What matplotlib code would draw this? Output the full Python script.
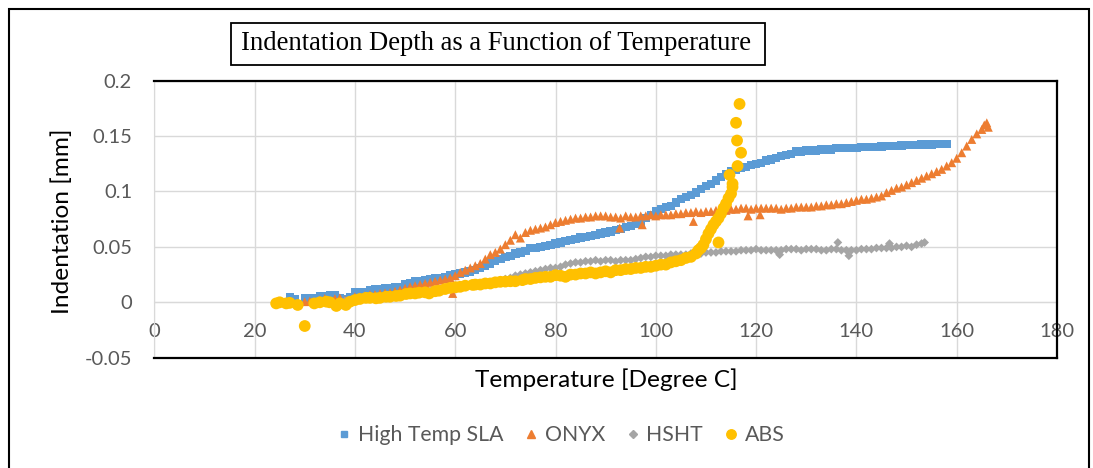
#!/usr/bin/env python3
"""Indentation depth vs temperature scatter chart (Excel style)."""

import matplotlib

matplotlib.use("Agg")
import matplotlib.pyplot as plt
from matplotlib.lines import Line2D
from matplotlib.patches import Rectangle

plt.rcParams["font.family"] = ["Lato", "DejaVu Sans"]

# ---- data ------------------------------------------------------------------
sla_temp = [27, 28, 30, 31, 32, 33, 34, 35, 36, 37, 38, 39, 40, 41, 42, 43, 44, 45, 46, 47,
            48, 49, 50, 51, 52, 53, 54, 55, 56, 57, 58, 59, 60, 61, 62, 63, 64, 65, 66, 67,
            68, 69, 70, 71, 72, 73, 74, 75, 76, 77, 78, 79, 80, 81, 82, 83, 84, 85, 86, 87,
            88, 89, 90, 91, 92, 93, 94, 95, 96, 97, 98, 99, 100, 101, 102, 103, 104, 105,
            106, 107, 108, 109, 110, 111, 112, 113, 114, 115, 116, 117, 118, 119, 120, 121,
            122, 123, 124, 125, 126, 127, 128, 129, 130, 131, 132, 133, 134, 135, 136, 137,
            138, 139, 140, 141, 142, 143, 144, 145, 146, 147, 148, 149, 150, 151, 152, 153,
            154, 155, 156, 157, 158]
sla_depth = [0.0045, 0.003, 0.0036, 0.004, 0.0035, 0.0055, 0.0057, 0.006, 0.0066, 0.004,
             0.003, 0.005, 0.0087, 0.009, 0.0095, 0.011, 0.0117, 0.012, 0.013, 0.0128,
             0.0136, 0.014, 0.016, 0.017, 0.0187, 0.019, 0.020, 0.021, 0.0217, 0.022,
             0.023, 0.0245, 0.0256, 0.026, 0.027, 0.0277, 0.029, 0.031, 0.033, 0.035,
             0.037, 0.039, 0.041, 0.042, 0.044, 0.045, 0.046, 0.049, 0.049, 0.050,
             0.051, 0.052, 0.053, 0.054, 0.0555, 0.056, 0.057, 0.0585, 0.059, 0.060,
             0.061, 0.062, 0.063, 0.064, 0.065, 0.066, 0.068, 0.069, 0.071, 0.073,
             0.076, 0.079, 0.082, 0.084, 0.086, 0.087, 0.090, 0.093, 0.095, 0.097,
             0.099, 0.102, 0.105, 0.107, 0.110, 0.113, 0.116, 0.118, 0.120, 0.121,
             0.122, 0.124, 0.125, 0.126, 0.128, 0.129, 0.130, 0.132, 0.133, 0.134,
             0.136, 0.136, 0.137, 0.137, 0.137, 0.138, 0.138, 0.138, 0.139, 0.139,
             0.1395, 0.139, 0.139, 0.140, 0.140, 0.140, 0.140, 0.1405, 0.141, 0.141,
             0.141, 0.1415, 0.142, 0.142, 0.142, 0.1425, 0.1425, 0.1425, 0.143, 0.143,
             0.143]

onyx_temp = [30, 31, 33, 34, 36, 37, 38, 40, 41, 42, 43, 44, 45, 46, 47, 48, 49, 50, 51, 52,
             53, 54, 55, 56, 57, 58, 59, 59.5, 60, 61, 62, 63, 64, 65, 66, 67, 68, 69, 70,
             71, 72, 73, 74, 75, 76, 77, 78, 79, 80, 81, 82, 83, 84, 85, 86, 87, 88, 89,
             90, 91, 92, 92.8, 93, 94, 95, 96, 97, 97.3, 98, 99, 100, 101, 102, 103, 104,
             105, 106, 107, 107.5, 108, 109, 110, 111, 112, 113, 114, 115, 116, 117, 118,
             118.4, 119, 120, 120.8, 121, 122, 123, 124, 125, 126, 127, 128, 129, 130, 131,
             132, 133, 134, 135, 136, 137, 138, 139, 140, 141, 142, 143, 144, 145, 146,
             147, 148, 149, 150, 151, 152, 153, 154, 155, 156, 157, 158, 159, 160, 161,
             162, 163, 164, 165, 165.5, 166, 166.3]
onyx_depth = [0.0006, 0.001, 0.002, 0.0035, 0.0033, 0.004, 0.002, 0.005, 0.005, 0.006,
              0.007, 0.007, 0.008, 0.0085, 0.0087, 0.010, 0.011, 0.0127, 0.014, 0.015,
              0.016, 0.017, 0.018, 0.019, 0.020, 0.021, 0.022, 0.008, 0.024, 0.027,
              0.029, 0.031, 0.033, 0.035, 0.039, 0.043, 0.045, 0.048, 0.052, 0.056,
              0.061, 0.058, 0.063, 0.065, 0.066, 0.067, 0.068, 0.070, 0.072, 0.073,
              0.074, 0.075, 0.076, 0.076, 0.077, 0.077, 0.078, 0.078, 0.078, 0.077,
              0.077, 0.067, 0.076, 0.078, 0.077, 0.077, 0.078, 0.070, 0.078, 0.079,
              0.078, 0.079, 0.079, 0.079, 0.080, 0.080, 0.081, 0.081, 0.073, 0.082,
              0.081, 0.082, 0.082, 0.083, 0.083, 0.083, 0.084, 0.084, 0.085, 0.085,
              0.078, 0.084, 0.085, 0.079, 0.085, 0.085, 0.085, 0.085, 0.084, 0.085,
              0.085, 0.086, 0.086, 0.086, 0.086, 0.087, 0.087, 0.088, 0.088, 0.089,
              0.089, 0.090, 0.091, 0.092, 0.093, 0.093, 0.094, 0.095, 0.096, 0.099,
              0.101, 0.103, 0.104, 0.106, 0.108, 0.110, 0.112, 0.114, 0.116, 0.118,
              0.120, 0.123, 0.126, 0.130, 0.135, 0.141, 0.147, 0.152, 0.156, 0.160,
              0.162, 0.158]

hsht_temp = [35, 36, 37, 38, 39, 40, 41, 42, 43, 44, 45, 46, 47, 48, 49, 50, 51, 52, 53, 54,
             55, 56, 57, 58, 59, 60, 61, 62, 63, 64, 65, 66, 67, 68, 69, 70, 71, 72, 73, 74,
             75, 76, 77, 78, 79, 80, 81, 82, 83, 84, 85, 86, 87, 88, 89, 90, 91, 92, 93, 94,
             95, 96, 97, 98, 99, 100, 101, 102, 103, 104, 105, 106, 107, 108, 109, 110, 111,
             112, 113, 114, 115, 116, 117, 118, 119, 120, 121, 122, 123, 124, 124.7, 125,
             126, 127, 128, 129, 130, 131, 132, 133, 134, 135, 136, 136.3, 137, 138, 138.5,
             139, 140, 141, 142, 143, 144, 145, 146, 146.6, 147, 148, 149, 150, 151, 152,
             153, 153.6]
hsht_depth = [-0.001, -0.0015, 0.000, 0.001, 0.0015, 0.002, 0.0025, 0.003, 0.0035, 0.004,
              0.0045, 0.005, 0.005, 0.006, 0.0065, 0.007, 0.0075, 0.008, 0.009, 0.0095,
              0.010, 0.0105, 0.011, 0.012, 0.0125, 0.013, 0.0135, 0.014, 0.015, 0.0155,
              0.016, 0.017, 0.018, 0.019, 0.020, 0.021, 0.022, 0.024, 0.025, 0.026,
              0.027, 0.028, 0.029, 0.030, 0.031, 0.031, 0.032, 0.034, 0.035, 0.036,
              0.036, 0.037, 0.037, 0.038, 0.037, 0.038, 0.038, 0.037, 0.038, 0.038,
              0.038, 0.039, 0.040, 0.041, 0.041, 0.042, 0.042, 0.042, 0.043, 0.043,
              0.043, 0.043, 0.044, 0.044, 0.044, 0.045, 0.045, 0.045, 0.046, 0.046,
              0.046, 0.046, 0.047, 0.047, 0.047, 0.048, 0.047, 0.047, 0.047, 0.047,
              0.043, 0.047, 0.048, 0.048, 0.048, 0.047, 0.048, 0.048, 0.048, 0.047,
              0.047, 0.048, 0.048, 0.054, 0.047, 0.047, 0.042, 0.047, 0.047, 0.048,
              0.048, 0.048, 0.049, 0.049, 0.049, 0.053, 0.049, 0.050, 0.050, 0.051,
              0.050, 0.052, 0.053, 0.054]

abs_temp = [24.3, 25, 26.3, 27, 28.6, 30, 31.9, 33, 34.3, 35, 36.3, 37, 38.2, 39, 40, 41,
            42.2, 43, 44.2, 45, 46.2, 47, 48.2, 49, 50.2, 51, 52, 52.8, 54, 54.8, 56, 56.8,
            58, 59, 60.1, 61, 62, 63.5, 64, 65, 66, 67, 68, 69, 70, 71, 72, 73.4, 74, 75,
            76, 77, 78, 79, 80, 81, 82, 83, 84, 85, 86, 87, 88, 89, 90, 91, 92, 93, 94, 95,
            96, 97, 98, 99, 100, 101, 102, 103, 104, 105, 106, 107, 108, 108.5, 109, 109.5,
            110, 110.5, 111, 111.5, 112, 112.5, 112.5, 113, 113.5, 114, 114.5, 115, 115.3,
            115.3, 114.7, 116.3, 117, 116.2, 116, 116.7]
abs_depth = [-0.001, 0.000, -0.001, -0.0005, -0.0024, -0.0214, -0.001, 0.000, 0.0006, 0.000,
             -0.0033, -0.001, -0.0024, 0.0005, 0.002, 0.003, 0.004, 0.004, 0.0036, 0.004,
             0.005, 0.005, 0.0057, 0.006, 0.0075, 0.008, 0.008, 0.0087, 0.009, 0.008,
             0.010, 0.0105, 0.012, 0.013, 0.0136, 0.014, 0.015, 0.0157, 0.016, 0.016,
             0.017, 0.017, 0.018, 0.0185, 0.0187, 0.019, 0.019, 0.020, 0.021, 0.021,
             0.022, 0.0225, 0.023, 0.023, 0.0245, 0.024, 0.023, 0.025, 0.025, 0.026,
             0.026, 0.027, 0.026, 0.027, 0.028, 0.027, 0.029, 0.029, 0.030, 0.030,
             0.031, 0.031, 0.032, 0.032, 0.033, 0.034, 0.034, 0.036, 0.037, 0.038,
             0.040, 0.041, 0.044, 0.047, 0.049, 0.052, 0.057, 0.062, 0.066, 0.070,
             0.073, 0.076, 0.054, 0.080, 0.085, 0.089, 0.094, 0.098, 0.104, 0.107,
             0.115, 0.123, 0.135, 0.146, 0.162, 0.179]

series_names = ["High Temp SLA", "ONYX", "HSHT", "ABS"]
x_ticks = [0, 20, 40, 60, 80, 100, 120, 140, 160, 180]
y_ticks = [-0.05, 0, 0.05, 0.1, 0.15, 0.2]
y_tick_labels = ["-0.05", "0", "0.05", "0.1", "0.15", "0.2"]

# ---- styling ---------------------------------------------------------------
W, H = 1093, 468
TICK_GREY = "#595959"
GRID_GREY = "#D9D9D9"
styles = [
    dict(color="#5B9BD5", marker="s", s=36),
    dict(color="#ED7D31", marker="^", s=42),
    dict(color="#A5A5A5", marker="D", s=20),
    dict(color="#FFC000", marker="o", s=72),
]


def px_box(left, top, right, bottom):
    return [left / W, 1 - bottom / H, (right - left) / W, (bottom - top) / H]


fig = plt.figure(figsize=(W / 100, H / 100), dpi=100)

# outer chart border (its bottom edge lies below the picture)
fig.patches.append(Rectangle((8.8 / W, -0.05), (1089 - 8.8) / W, 1.05 - 9.5 / H,
                             transform=fig.transFigure, fill=False, ec="black", lw=1.5))

ax = fig.add_axes(px_box(154.3, 80.7, 1057, 357.7))
series = [(sla_temp, sla_depth), (onyx_temp, onyx_depth),
          (hsht_temp, hsht_depth), (abs_temp, abs_depth)]
for (tx, dy), name, st in zip(series, series_names, styles):
    ax.scatter(tx, dy, c=st["color"], marker=st["marker"], s=st["s"],
               edgecolors="none", label=name, zorder=3)

ax.set_xlim(0, 180)
ax.set_ylim(-0.05, 0.2)
ax.set_xticks(x_ticks)
ax.set_yticks(y_ticks)
ax.set_yticklabels(y_tick_labels)
ax.grid(True, color=GRID_GREY, lw=1.0, zorder=0)
ax.set_axisbelow(True)

ax.spines["bottom"].set_position(("data", 0))
ax.spines["bottom"].set_color(GRID_GREY)
ax.spines["left"].set_color(GRID_GREY)
ax.spines["top"].set_visible(False)
ax.spines["right"].set_visible(False)
ax.tick_params(axis="both", length=0, labelsize=14.5, labelcolor=TICK_GREY)
ax.tick_params(axis="x", pad=15)
ax.tick_params(axis="y", pad=16)

# black frame on top, right and bottom of the plot area
for xs, ys in [([0, 1], [1, 1]), ([1, 1], [0, 1]), ([0, 1], [0, 0])]:
    ax.add_line(Line2D(xs, ys, transform=ax.transAxes, color="black", lw=1.6,
                       clip_on=False, zorder=5))

fig.text(606 / W, 1 - 380 / H, "Temperature [Degree C]", ha="center", va="center",
         fontsize=17.6, color="black")
fig.text(62 / W, 1 - 221 / H, "Indentation [mm]", ha="center", va="center",
         rotation=90, fontsize=17.6, color="black")

# title in a boxed text, Times-like
fig.patches.append(Rectangle((230.5 / W, 1 - 65 / H), (765 - 230.5) / W, (65 - 23.5) / H,
                             transform=fig.transFigure, fc="white", ec="black", lw=1.3))
fig.text(496 / W, 1 - 44 / H, "Indentation Depth as a Function of Temperature",
         ha="center", va="center", fontsize=19.2, family="Liberation Serif", color="black")

handles = [Line2D([], [], ls="none", marker=st["marker"], color=st["color"],
                  markersize=ms) for st, ms in zip(styles, [5, 5.5, 4, 6.8])]
fig.legend(handles, series_names, loc="center", bbox_to_anchor=(561 / W, 1 - 435 / H),
           ncol=4, frameon=False, fontsize=15.3, labelcolor=TICK_GREY,
           handlelength=0.6, handletextpad=0.35, columnspacing=1.0)

fig.savefig("out.png", dpi=100)
